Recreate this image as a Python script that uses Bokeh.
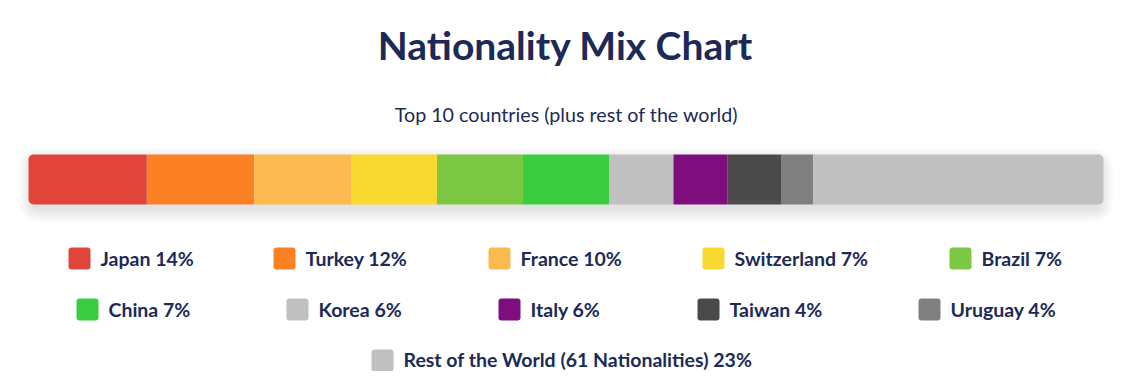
from bokeh.plotting import figure
from bokeh.models import Range1d
from bokeh.core.properties import value
from bokeh.embed import file_html
from bokeh.resources import INLINE
import numpy as np

# ---------------- data ----------------
countries = ["Japan", "Turkey", "France", "Switzerland", "Brazil", "China",
             "Korea", "Italy", "Taiwan", "Uruguay",
             "Rest of the World (61 Nationalities)"]
label_pct = [14, 12, 10, 7, 7, 7, 6, 6, 4, 4, 23]
bar_share = [11, 10, 9, 8, 8, 8, 6, 5, 5, 3, 27]
colors = ["#E0443B", "#FC8024", "#FBBA50", "#F9D930", "#7DC843", "#3ACD3F",
          "#C0C0C0", "#7E0E7E", "#4A4A4A", "#808080", "#C0C0C0"]
title_text = "Nationality Mix Chart"
subtitle_text = "Top 10 countries (plus rest of the world)"

# ---------------- layout ----------------
W, H = 1114, 371
BAR_L, BAR_R = 28, 1103
BAR_T, BAR_B = 154, 204
SCALE = (BAR_R - BAR_L) / 100.0
NAVY = "#1C2A57"


def xs(sx):
    return (sx - BAR_L) / SCALE


def ys(sy):
    return H - sy


legend_rows = [[0, 1, 2, 3, 4], [5, 6, 7, 8, 9], [10]]
legend_marker_left = [[68, 273, 488, 702, 949], [76, 286, 498, 697, 918], [371]]
legend_marker_top = [247, 298, 349]
legend_text_mid = [258, 309, 359]
MARK = 22

p = figure(width=W, height=H,
           x_range=Range1d(xs(0), xs(W)),
           y_range=Range1d(0, H),
           x_axis_type=None, y_axis_type=None,
           output_backend="svg", toolbar_location=None, min_border=0)
p.outline_line_color = None
p.grid.visible = False
p.background_fill_color = "white"
p.border_fill_color = "white"

# soft shadow under the bar
for i in range(14):
    spread = i
    p.quad(left=[xs(BAR_L - spread + 3)], right=[xs(BAR_R + spread - 3)],
           top=[ys(BAR_T + 6 - spread)], bottom=[ys(BAR_B + 5 + spread)],
           fill_color="black", fill_alpha=0.009, line_color=None,
           border_radius=int(6 + spread))

# bar segments
cum = np.concatenate([[0], np.cumsum(bar_share)])
lefts = cum[:-1]
rights = cum[1:]
top = ys(BAR_T)
bottom = ys(BAR_B)
p.quad(left=lefts[1:-1], right=rights[1:-1], top=top, bottom=bottom,
       fill_color=colors[1:-1], line_color=None)
p.quad(left=[lefts[0]], right=[rights[0]], top=top, bottom=bottom,
       fill_color=colors[0], line_color=None, border_radius=(5, 0, 0, 5))
p.quad(left=[lefts[-1]], right=[rights[-1]], top=top, bottom=bottom,
       fill_color=colors[-1], line_color=None, border_radius=(0, 5, 5, 0))

# title and subtitle
p.text(x=[xs(565)], y=[ys(44.5)], text=[title_text], text_font=value("Lato"),
       text_font_style="bold", text_font_size="39px", text_color=NAVY,
       text_align="center", text_baseline="middle")
p.text(x=[xs(566)], y=[ys(114)], text=[subtitle_text], text_font=value("Lato"),
       text_font_size="19.7px", text_color=NAVY,
       text_align="center", text_baseline="middle")

# legend
for r, row in enumerate(legend_rows):
    for k, idx in enumerate(row):
        mx = legend_marker_left[r][k]
        my = legend_marker_top[r]
        p.quad(left=[xs(mx)], right=[xs(mx + MARK)], top=[ys(my)],
               bottom=[ys(my + MARK)], fill_color=colors[idx], line_color=None,
               border_radius=3)
        p.text(x=[xs(mx + MARK + 10)], y=[ys(legend_text_mid[r])],
               text=[f"{countries[idx]} {label_pct[idx]}%"],
               text_font=value("Lato"), text_font_style="bold",
               text_font_size="19.5px", text_color=NAVY,
               text_align="left", text_baseline="middle")

open("out.html", "w").write(file_html(p, INLINE))
